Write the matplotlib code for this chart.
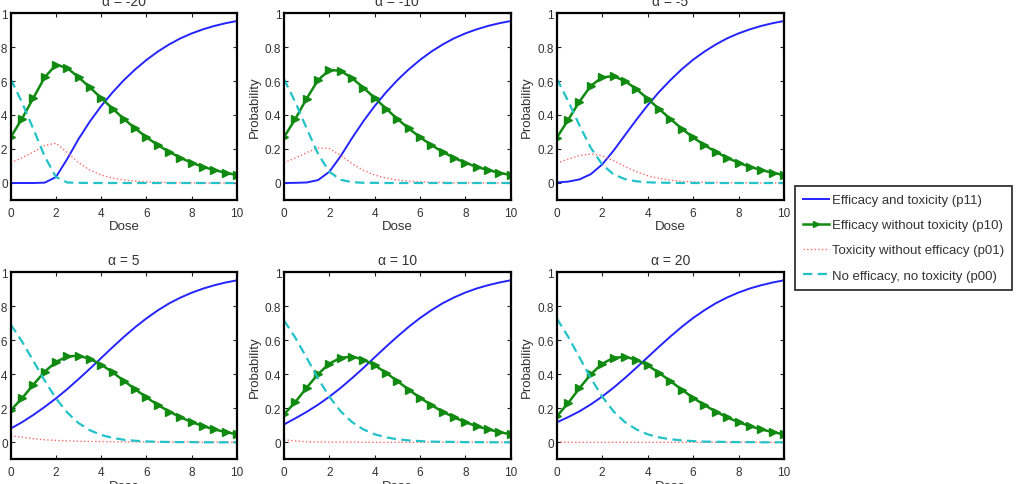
import matplotlib
matplotlib.use("Agg")
import matplotlib.pyplot as plt
from matplotlib.ticker import FuncFormatter

plt.rcParams['font.family'] = ['Liberation Sans', 'DejaVu Sans']

dose = [0, 0.5, 1, 1.5, 2, 2.5, 3, 3.5, 4, 4.5, 5, 5.5, 6, 6.5, 7, 7.5, 8, 8.5, 9, 9.5, 10]

alphas = [-20, -10, -5, 5, 10, 20]

p11_m20 = [0.000, 0.000, 0.000, 0.002, 0.035, 0.142, 0.259, 0.362, 0.453, 0.533, 0.605, 0.668, 0.724, 0.773, 0.815, 0.851, 0.880, 0.904, 0.924, 0.940, 0.953]
p10_m20 = [0.269, 0.378, 0.500, 0.621, 0.696, 0.676, 0.622, 0.562, 0.500, 0.438, 0.377, 0.321, 0.269, 0.223, 0.183, 0.148, 0.119, 0.095, 0.076, 0.060, 0.047]
p01_m20 = [0.119, 0.148, 0.182, 0.221, 0.234, 0.179, 0.119, 0.076, 0.047, 0.029, 0.018, 0.011, 0.007, 0.004, 0.003, 0.001, 0.001, 0.000, 0.000, 0.000, 0.000]
p00_m20 = [0.612, 0.474, 0.318, 0.157, 0.035, 0.003, 0.001, 0.000, 0.000, 0.000, 0.000, 0.000, 0.000, 0.000, 0.000, 0.000, 0.000, 0.000, 0.000, 0.000, 0.000]

p11_m10 = [0.000, 0.001, 0.003, 0.017, 0.066, 0.158, 0.264, 0.363, 0.453, 0.533, 0.605, 0.668, 0.724, 0.773, 0.815, 0.851, 0.880, 0.904, 0.924, 0.940, 0.953]
p10_m10 = [0.269, 0.377, 0.497, 0.605, 0.665, 0.660, 0.617, 0.561, 0.500, 0.438, 0.377, 0.321, 0.269, 0.223, 0.183, 0.148, 0.119, 0.095, 0.076, 0.060, 0.047]
p01_m10 = [0.119, 0.147, 0.179, 0.206, 0.203, 0.163, 0.114, 0.075, 0.047, 0.029, 0.018, 0.011, 0.007, 0.004, 0.003, 0.001, 0.001, 0.001, 0.000, 0.000, 0.000]
p00_m10 = [0.612, 0.475, 0.321, 0.172, 0.066, 0.019, 0.005, 0.001, 0.001, 0.000, 0.000, 0.000, 0.000, 0.000, 0.000, 0.000, 0.000, 0.000, 0.000, 0.000, 0.000]

p11_m5 = [0.003, 0.008, 0.021, 0.052, 0.109, 0.190, 0.281, 0.371, 0.457, 0.535, 0.605, 0.669, 0.725, 0.773, 0.815, 0.851, 0.880, 0.904, 0.924, 0.940, 0.953]
p10_m5 = [0.266, 0.370, 0.479, 0.571, 0.622, 0.628, 0.600, 0.553, 0.496, 0.436, 0.377, 0.320, 0.268, 0.223, 0.183, 0.148, 0.119, 0.095, 0.076, 0.060, 0.047]
p01_m5 = [0.116, 0.140, 0.161, 0.171, 0.160, 0.131, 0.097, 0.067, 0.043, 0.027, 0.017, 0.010, 0.006, 0.004, 0.003, 0.001, 0.001, 0.001, 0.000, 0.000, 0.000]
p00_m5 = [0.615, 0.483, 0.339, 0.207, 0.109, 0.051, 0.023, 0.010, 0.004, 0.002, 0.001, 0.000, 0.000, 0.000, 0.000, 0.000, 0.000, 0.000, 0.000, 0.000, 0.000]

p11_p5 = [0.081, 0.118, 0.161, 0.208, 0.258, 0.313, 0.372, 0.433, 0.496, 0.559, 0.620, 0.677, 0.729, 0.776, 0.817, 0.851, 0.880, 0.904, 0.924, 0.940, 0.953]
p10_p5 = [0.188, 0.259, 0.339, 0.415, 0.473, 0.505, 0.509, 0.491, 0.457, 0.412, 0.362, 0.312, 0.264, 0.220, 0.181, 0.147, 0.119, 0.095, 0.076, 0.060, 0.047]
p01_p5 = [0.038, 0.030, 0.021, 0.015, 0.011, 0.008, 0.006, 0.005, 0.004, 0.003, 0.003, 0.002, 0.002, 0.001, 0.001, 0.001, 0.001, 0.000, 0.000, 0.000, 0.000]
p00_p5 = [0.693, 0.593, 0.479, 0.363, 0.258, 0.175, 0.113, 0.071, 0.043, 0.026, 0.015, 0.009, 0.005, 0.003, 0.002, 0.001, 0.001, 0.000, 0.000, 0.000, 0.000]

p11_p10 = [0.105, 0.141, 0.179, 0.221, 0.268, 0.320, 0.377, 0.437, 0.500, 0.562, 0.622, 0.679, 0.731, 0.777, 0.818, 0.852, 0.881, 0.905, 0.924, 0.940, 0.953]
p10_p10 = [0.164, 0.237, 0.321, 0.401, 0.463, 0.497, 0.504, 0.487, 0.453, 0.409, 0.360, 0.310, 0.262, 0.219, 0.180, 0.147, 0.118, 0.095, 0.076, 0.060, 0.047]
p01_p10 = [0.015, 0.008, 0.003, 0.002, 0.001, 0.001, 0.001, 0.000, 0.000, 0.000, 0.000, 0.000, 0.000, 0.000, 0.000, 0.000, 0.000, 0.000, 0.000, 0.000, 0.000]
p00_p10 = [0.717, 0.615, 0.497, 0.376, 0.268, 0.182, 0.119, 0.076, 0.047, 0.029, 0.018, 0.011, 0.007, 0.004, 0.003, 0.002, 0.001, 0.001, 0.000, 0.000, 0.000]

p11_p20 = [0.117, 0.148, 0.182, 0.223, 0.269, 0.321, 0.378, 0.438, 0.500, 0.562, 0.622, 0.679, 0.731, 0.777, 0.818, 0.852, 0.881, 0.905, 0.924, 0.940, 0.953]
p10_p20 = [0.152, 0.230, 0.318, 0.400, 0.462, 0.497, 0.503, 0.486, 0.453, 0.409, 0.360, 0.310, 0.262, 0.219, 0.180, 0.147, 0.118, 0.095, 0.076, 0.060, 0.047]
p01_p20 = [0.002, 0.000, 0.000, 0.000, 0.000, 0.000, 0.000, 0.000, 0.000, 0.000, 0.000, 0.000, 0.000, 0.000, 0.000, 0.000, 0.000, 0.000, 0.000, 0.000, 0.000]
p00_p20 = [0.729, 0.622, 0.500, 0.378, 0.269, 0.182, 0.119, 0.076, 0.047, 0.029, 0.018, 0.011, 0.007, 0.004, 0.003, 0.002, 0.001, 0.001, 0.000, 0.000, 0.000]

panels = [
    (p11_m20, p10_m20, p01_m20, p00_m20),
    (p11_m10, p10_m10, p01_m10, p00_m10),
    (p11_m5, p10_m5, p01_m5, p00_m5),
    (p11_p5, p10_p5, p01_p5, p00_p5),
    (p11_p10, p10_p10, p01_p10, p00_p10),
    (p11_p20, p10_p20, p01_p20, p00_p20),
]

legend_labels = ['Efficacy and toxicity (p11)', 'Efficacy without toxicity (p10)',
                 'Toxicity without efficacy (p01)', 'No efficacy, no toxicity (p00)']

W, H = 1016, 485
fig = plt.figure(figsize=(W / 100, H / 100), dpi=100)

col_left = [10.7, 284.0, 556.7]
col_width = [226.3, 226.7, 227.3]
row_top = [14.0, 273.3]
row_h = 187.0

c_blue = '#2424ff'
c_green = '#108a10'
c_red = '#ff6b6b'
c_cyan = '#22c2c8'
c_text = '#333333'

fmt = FuncFormatter(lambda v, p: ('%g' % round(v, 6)))

handles = None
for i, (p11, p10, p01, p00) in enumerate(panels):
    r, c = divmod(i, 3)
    left = col_left[c] / W
    bottom = 1 - (row_top[r] + row_h) / H
    ax = fig.add_axes([left, bottom, col_width[c] / W, row_h / H])
    h1, = ax.plot(dose, p11, '-', color=c_blue, lw=1.4)
    h2, = ax.plot(dose, p10, '-', color=c_green, lw=1.8, marker='>', ms=5.8,
                  mfc=c_green, mec=c_green)
    h3, = ax.plot(dose, p01, ':', color=c_red, lw=1.0)
    h4, = ax.plot(dose, p00, '--', color=c_cyan, lw=1.6, dashes=(4.2, 2.4))
    handles = [h1, h2, h3, h4]
    ax.set_xlim(0, 10)
    ax.set_ylim(-0.1, 1)
    ax.set_xticks([0, 2, 4, 6, 8, 10])
    ax.set_yticks([0, 0.2, 0.4, 0.6, 0.8, 1])
    ax.xaxis.set_major_formatter(fmt)
    ax.yaxis.set_major_formatter(fmt)
    ax.tick_params(direction='in', top=True, right=True, length=3, width=0.8,
                   labelsize=8.5, labelcolor=c_text, color='#222222')
    ax.tick_params(axis='x', pad=5)
    ax.tick_params(axis='y', pad=2)
    for s in ax.spines.values():
        s.set_linewidth(1.6)
        s.set_color('black')
    ax.set_title('\u03b1 = %d' % alphas[i], fontsize=10, pad=6, color=c_text)
    ax.set_xlabel('Dose', fontsize=9.5, labelpad=1, color=c_text)
    ax.set_ylabel('Probability', fontsize=9.5, labelpad=3, color=c_text)

leg = fig.legend(handles, legend_labels, loc='upper left',
                 bbox_to_anchor=(794.7 / W, 1 - 187 / H), borderaxespad=0,
                 fontsize=9.5, frameon=True, fancybox=False, handlelength=2.0,
                 handletextpad=0.25, labelspacing=0.98, borderpad=0.6,
                 markerscale=0.85)
leg.get_frame().set_edgecolor('black')
leg.get_frame().set_linewidth(1.3)
for t in leg.get_texts():
    t.set_color(c_text)

fig.savefig('out.png', dpi=100)
